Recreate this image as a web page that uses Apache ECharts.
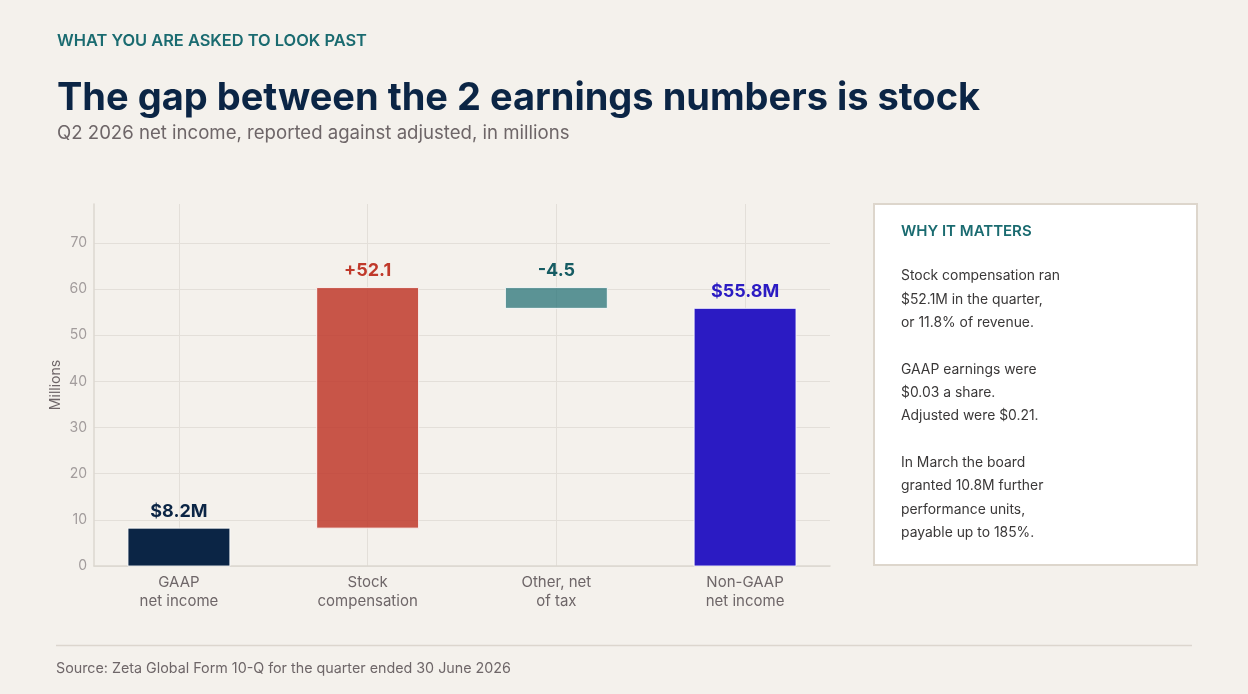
<!DOCTYPE html>
<html>
<head>
<meta charset="utf-8">
<script src="https://cdn.jsdelivr.net/npm/echarts@6/dist/echarts.min.js"></script>
<style>
  html, body { margin: 0; padding: 0; background: #f4f1ec; }
  #chart { width: 1248px; height: 694px; }
</style>
</head>
<body>
<div id="chart"></div>
<script>
// waterfall steps, in millions
const categories = ['GAAP\nnet income', 'Stock\ncompensation', 'Other, net\nof tax', 'Non-GAAP\nnet income'];
const changes = [8.2, 52.1, -4.5, 55.8];
const isTotal = [true, false, false, true];
const barLabels = ['$8.2M', '+52.1', '-4.5', '$55.8M'];
const yTicks = [0, 10, 20, 30, 40, 50, 60, 70];

const barColors = ['#0b2545', 'rgba(192,57,43,0.85)', 'rgba(26,107,112,0.7)', '#2b1bc3'];
const labelColors = ['#0b2545', '#c0392b', '#165c63', '#2b1bc3'];

const noteLines = [
  'Stock compensation ran', '$52.1M in the quarter,', 'or 11.8% of revenue.', '',
  'GAAP earnings were', '$0.03 a share.', 'Adjusted were $0.21.', '',
  'In March the board', 'granted 10.8M further', 'performance units,', 'payable up to 185%.'
];

const FONT = 'Inter, "Noto Sans", sans-serif';
const BAR_HALF = 0.27; // half bar width, in category units

// each bar as [index, low, high]
let running = 0;
const stepData = [];
changes.forEach((c, i) => {
  if (isTotal[i]) {
    stepData.push([i, 0, c]);
    running = c;
  } else {
    stepData.push([i, Math.min(running, running + c), Math.max(running, running + c)]);
    running += c;
  }
});
const peak = Math.max(...stepData.map(d => d[2]));

function renderStep(params, api) {
  const i = params.dataIndex;
  const x = api.value(0);
  const topLeft = api.coord([x - BAR_HALF, api.value(2)]);
  const botRight = api.coord([x + BAR_HALF, api.value(1)]);
  return {
    type: 'group',
    children: [
      {
        type: 'rect',
        shape: {
          x: topLeft[0], y: topLeft[1],
          width: botRight[0] - topLeft[0], height: botRight[1] - topLeft[1]
        },
        style: { fill: barColors[i], stroke: 'rgba(255,255,255,0.85)', lineWidth: 1 }
      },
      {
        type: 'text',
        x: (topLeft[0] + botRight[0]) / 2,
        y: topLeft[1] - 8,
        style: {
          text: barLabels[i],
          font: '700 18px ' + FONT,
          fill: labelColors[i],
          align: 'center',
          verticalAlign: 'bottom'
        }
      }
    ]
  };
}

const chart = echarts.init(document.getElementById('chart'));

const option = {
  backgroundColor: '#f4f1ec',
  animation: false,
  textStyle: { fontFamily: FONT },
  title: [
    {
      text: 'WHAT YOU ARE ASKED TO LOOK PAST',
      left: 52, top: 28,
      textStyle: { fontFamily: FONT, fontSize: 16.4, fontWeight: 600, color: '#1a6b70' }
    },
    {
      text: 'The gap between the 2 earnings numbers is stock',
      left: 52, top: 75,
      textStyle: { fontFamily: FONT, fontSize: 38, fontWeight: 700, color: '#0b2545' }
    },
    {
      text: 'Q2 2026 net income, reported against adjusted, in millions',
      left: 52, top: 119,
      textStyle: { fontFamily: FONT, fontSize: 18.6, fontWeight: 400, color: '#6e6668' }
    },
    {
      text: 'Source: Zeta Global Form 10-Q for the quarter ended 30 June 2026',
      left: 51, top: 657,
      textStyle: { fontFamily: FONT, fontSize: 14.3, fontWeight: 400, color: '#6e6668' }
    }
  ],
  grid: { left: 94, right: 418, top: 204, bottom: 128 },
  xAxis: {
    type: 'value',
    min: -0.45,
    max: 3.45,
    axisLine: { show: true, onZero: false, lineStyle: { color: '#dcd7d0', width: 1.5 } },
    axisTick: { show: false, customValues: [0, 1, 2, 3] },
    splitLine: { show: true, lineStyle: { color: '#e3dfd9', width: 1 } },
    axisLabel: {
      customValues: [0, 1, 2, 3],
      formatter: v => categories[Math.round(v)],
      fontFamily: FONT, fontSize: 15, color: '#6e6668', lineHeight: 19, margin: 7
    }
  },
  yAxis: {
    type: 'value',
    min: 0,
    max: Math.round(peak * 1.3 * 10) / 10,
    interval: 10,
    name: 'Millions',
    nameLocation: 'middle',
    nameRotate: 90,
    nameGap: 31,
    nameMoveOverlap: false,
    nameTextStyle: { fontFamily: FONT, fontSize: 14, color: '#6e6668' },
    axisLine: { show: true, onZero: false, lineStyle: { color: '#dcd7d0', width: 1.5 } },
    axisTick: { show: false },
    splitLine: { show: true, showMaxLine: false, lineStyle: { color: '#e3dfd9', width: 1 } },
    axisLabel: {
      showMaxLabel: false,
      formatter: v => (yTicks.includes(v) ? String(v) : ''),
      fontFamily: FONT, fontSize: 14, color: '#a29c9c', margin: 7
    }
  },
  series: [
    {
      type: 'custom',
      renderItem: renderStep,
      encode: { x: 0, y: [1, 2] },
      data: stepData
    }
  ],
  graphic: [
    {
      type: 'rect',
      shape: { x: 874, y: 204, width: 323, height: 361 },
      style: { fill: '#ffffff', stroke: '#ddd6cc', lineWidth: 2 }
    },
    {
      type: 'text',
      x: 901, y: 231,
      style: {
        text: 'WHY IT MATTERS',
        font: '600 15px ' + FONT,
        fill: '#1a6b70',
        verticalAlign: 'middle'
      }
    },
    ...noteLines.map((t, i) => ({
      type: 'text',
      x: 901,
      y: 276 + i * 23.35,
      style: {
        text: t,
        font: '400 13.9px ' + FONT,
        fill: '#3a3838',
        verticalAlign: 'middle'
      }
    })),
    {
      type: 'line',
      shape: { x1: 56, y1: 645.5, x2: 1192, y2: 645.5 },
      style: { stroke: '#dcd6ce', lineWidth: 1.5 }
    }
  ]
};

chart.setOption(option);
</script>
</body>
</html>
